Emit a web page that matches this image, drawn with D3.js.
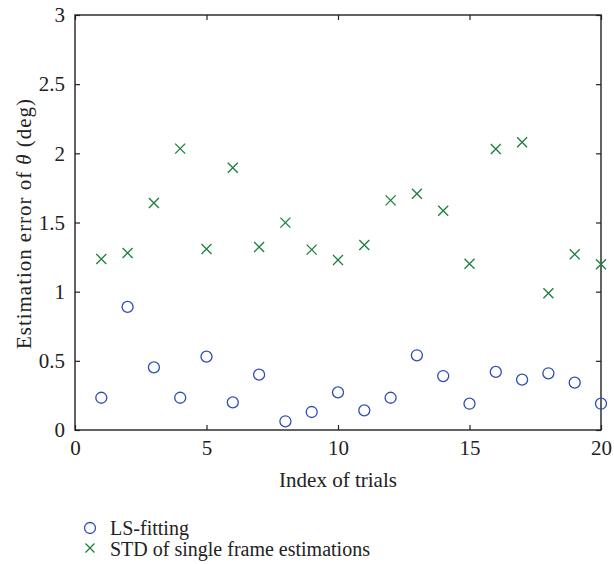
<!DOCTYPE html>
<html>
<head>
<meta charset="utf-8">
<script src="https://cdn.jsdelivr.net/npm/d3@7"></script>
<style>
body { margin: 0; background: #fff; }
text { font-family: "Liberation Serif", "DejaVu Serif", serif; fill: #222; }
</style>
</head>
<body>
<svg id="chart" width="614" height="564"></svg>
<script>
let trials = d3.range(1, 21);
let lsFitting = [0.233, 0.89, 0.453, 0.233, 0.53, 0.20, 0.40, 0.063, 0.13, 0.272,
                 0.142, 0.233, 0.54, 0.39, 0.19, 0.42, 0.364, 0.41, 0.342, 0.19];
let stdSingle = [1.236, 1.28, 1.641, 2.034, 1.308, 1.896, 1.323, 1.499, 1.304, 1.229,
                 1.337, 1.66, 1.708, 1.585, 1.202, 2.031, 2.08, 0.988, 1.27, 1.198];
let xTicks = [0, 5, 10, 15, 20];
let yTicks = [0, 0.5, 1, 1.5, 2, 2.5, 3];
let legendLabels = ["LS-fitting", "STD of single frame estimations"];

let blue = "#2f4fae", green = "#1b7f3e";
let fontSize = "21px";
let svg = d3.select("#chart");
let margin = {top: 15, left: 75, right: 13, bottom: 134};
let width = 614 - margin.left - margin.right, height = 564 - margin.top - margin.bottom;

let x = d3.scaleLinear().domain([0, 20]).range([0, width]);
let y = d3.scaleLinear().domain([0, 3]).range([height, 0]);

let g = svg.append("g").attr("transform", "translate(" + margin.left + "," + margin.top + ")");

// box + inward ticks on all four sides
function styleAxis(sel) {
    sel.select(".domain").remove();
    sel.selectAll("line").attr("stroke", "#222").attr("stroke-width", 1.2);
    sel.selectAll("text").style("font-size", fontSize).attr("fill", "#222");
}
g.append("g").attr("transform", "translate(0," + height + ")")
    .call(d3.axisBottom(x).tickValues(xTicks).tickSizeInner(-5).tickSizeOuter(0).tickPadding(10).tickFormat(d3.format("d")))
    .call(styleAxis);
g.append("g")
    .call(d3.axisTop(x).tickValues(xTicks).tickSizeInner(-5).tickSizeOuter(0).tickFormat(""))
    .call(styleAxis);
g.append("g")
    .call(d3.axisLeft(y).tickValues(yTicks).tickSizeInner(-5).tickSizeOuter(0).tickPadding(10).tickFormat(d => d))
    .call(styleAxis);
g.append("g").attr("transform", "translate(" + width + ",0)")
    .call(d3.axisRight(y).tickValues(yTicks).tickSizeInner(-5).tickSizeOuter(0).tickFormat(""))
    .call(styleAxis);
g.append("rect").attr("width", width).attr("height", height)
    .attr("fill", "none").attr("stroke", "#222").attr("stroke-width", 1.4);

// series
g.selectAll(".ls").data(lsFitting).enter().append("circle")
    .attr("class", "ls")
    .attr("cx", (d, i) => x(trials[i]))
    .attr("cy", d => y(d))
    .attr("r", 5.5)
    .attr("fill", "none").attr("stroke", blue).attr("stroke-width", 1.3);

g.selectAll(".std").data(stdSingle).enter().append("path")
    .attr("class", "std")
    .attr("transform", (d, i) => "translate(" + x(trials[i]) + "," + y(d) + ")")
    .attr("d", "M-5,-5L5,5M-5,5L5,-5")
    .attr("fill", "none").attr("stroke", green).attr("stroke-width", 1.3);

// axis titles
svg.append("text").attr("x", margin.left + width / 2).attr("y", 487)
    .attr("text-anchor", "middle").style("font-size", fontSize).text("Index of trials");
let yl = svg.append("text").attr("transform", "translate(31,224) rotate(-90)")
    .attr("text-anchor", "middle").style("font-size", fontSize)
    .attr("textLength", 250).attr("lengthAdjust", "spacing");
yl.append("tspan").text("Estimation error of ");
yl.append("tspan").style("font-style", "italic").text("θ");
yl.append("tspan").text(" (deg)");

// legend
let leg = svg.append("g").attr("transform", "translate(90,528)");
leg.append("circle").attr("cx", 0).attr("cy", 0).attr("r", 5.5)
    .attr("fill", "none").attr("stroke", blue).attr("stroke-width", 1.3);
leg.append("path").attr("transform", "translate(0,20)").attr("d", "M-4.5,-4.5L4.5,4.5M-4.5,4.5L4.5,-4.5")
    .attr("fill", "none").attr("stroke", green).attr("stroke-width", 1.3);
leg.selectAll(".lt").data(legendLabels).enter().append("text")
    .attr("x", 20).attr("y", (d, i) => 7 + i * 21)
    .style("font-size", "20px").text(d => d);
</script>
</body>
</html>
